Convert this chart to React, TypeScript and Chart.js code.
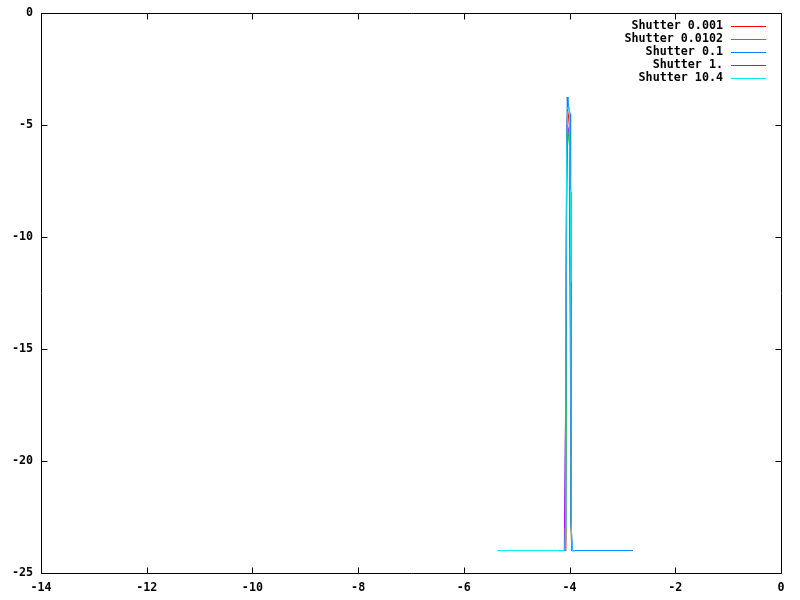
import React, { useEffect, useRef } from "react";
import { Chart, registerables } from "chart.js";

Chart.register(...registerables);

const seriesLabels = ["Shutter 0.001", "Shutter 0.0102", "Shutter 0.1", "Shutter 1.", "Shutter 10.4"];
const seriesColors = ["#ff0000", "#00c000", "#0080ff", "#c000ff", "#00eeee"];

const redX = [-4.1, -4.07, -4.055, -4.04, -4.02, -4.0, -3.99, -3.975, -3.96, -3.9];
const redY = [-24, -24, -5.5, -4.3, -4.6, -5.2, -12, -22.5, -24, -24];

const greenX = [-4.1, -4.07, -4.055, -4.04, -4.02, -4.0, -3.99, -3.975, -3.96, -3.9];
const greenY = [-24, -23.5, -9.4, -5, -5.5, -6, -8, -22.6, -24, -24];

const blueX = [-4.2, -4.09, -4.075, -4.06, -4.045, -4.03, -4.01, -3.99, -3.98, -3.97, -3.95, -3.86, -2.8];
const blueY = [-24, -24, -17.4, -9.5, -3.75, -4.2, -4.3, -4.5, -15.2, -22.8, -24, -24, -24];

const magentaX = [-4.1, -4.075, -4.06, -4.045, -4.02, -4.0, -3.98, -3.97, -3.95, -3.9];
const magentaY = [-24, -17.4, -8, -5, -5.2, -5.5, -15.2, -22.8, -24, -24];

const cyanX = [-5.37, -4.09, -4.08, -4.07, -4.055, -4.04, -4.02, -4.0, -3.99, -3.98, -3.97, -3.95, -3.9];
const cyanY = [-24, -24, -23, -14, -6, -4.5, -4.3, -4.2, -7.9, -10.9, -22.7, -24, -24];

const xsAll = [redX, greenX, blueX, magentaX, cyanX];
const ysAll = [redY, greenY, blueY, magentaY, cyanY];

const xTicks = [-14, -12, -10, -8, -6, -4, -2, 0];
const yTicks = [-25, -20, -15, -10, -5, 0];

const FONT_FAMILY = "'DejaVu Sans Mono', 'Liberation Mono', monospace";
const FONT = "bold 11.7px " + FONT_FAMILY;

const framePlugin = {
  id: "gnuframe",
  afterDraw(chart: any) {
    const { ctx, chartArea } = chart;
    const { left, right, top, bottom } = chartArea;
    const xs = chart.scales.x;
    const ys = chart.scales.y;
    ctx.save();
    ctx.strokeStyle = "#000";
    ctx.lineWidth = 1;
    const L = Math.round(left) + 0.5;
    const R = Math.round(right) + 0.5;
    const T = Math.round(top) + 0.5;
    const B = Math.round(bottom) + 0.5;
    ctx.beginPath();
    ctx.rect(L, T, R - L, B - T);
    const tl = 6;
    xTicks.forEach((v) => {
      const px = Math.round(xs.getPixelForValue(v)) + 0.5;
      ctx.moveTo(px, B);
      ctx.lineTo(px, B - tl);
      ctx.moveTo(px, T);
      ctx.lineTo(px, T + tl);
    });
    yTicks.forEach((v) => {
      const py = Math.round(ys.getPixelForValue(v)) + 0.5;
      ctx.moveTo(L, py);
      ctx.lineTo(L + tl, py);
      ctx.moveTo(R, py);
      ctx.lineTo(R - tl, py);
    });
    ctx.stroke();

    // legend
    ctx.font = FONT;
    ctx.fillStyle = "#000";
    ctx.textAlign = "right";
    ctx.textBaseline = "middle";
    seriesLabels.forEach((lab, i) => {
      const y = 25.5 + 13.2 * i;
      ctx.fillText(lab, 723, y);
      ctx.beginPath();
      ctx.strokeStyle = seriesColors[i];
      const yy = Math.round(y) + 0.5;
      ctx.moveTo(731, yy);
      ctx.lineTo(766, yy);
      ctx.stroke();
    });
    ctx.restore();
  },
};

export default function App() {
  const ref = useRef<HTMLCanvasElement | null>(null);
  useEffect(() => {
    if (!ref.current) return;
    const datasets = seriesLabels.map((lab, i) => ({
      label: lab,
      data: xsAll[i].map((x, j) => ({ x, y: ysAll[i][j] })),
      borderColor: seriesColors[i],
      backgroundColor: seriesColors[i],
      borderWidth: 1,
      pointRadius: 0,
      showLine: true,
      fill: false,
      tension: 0,
      order: seriesLabels.length - i,
    }));
    const tickFont = { family: FONT_FAMILY, size: 11.7, weight: "bold" as const };
    const chart = new Chart(ref.current, {
      type: "scatter",
      data: { datasets },
      options: {
        animation: false,
        responsive: false,
        maintainAspectRatio: false,
        layout: { padding: { left: 0, top: 13, right: 19, bottom: 0 } },
        plugins: { legend: { display: false }, tooltip: { enabled: false } },
        scales: {
          x: {
            type: "linear",
            min: -14,
            max: 0,
            afterFit: (s: any) => { s.height = 27; s.paddingLeft = 0; s.paddingRight = 0; },
            afterBuildTicks: (s: any) => { s.ticks = xTicks.map((v) => ({ value: v })); },
            grid: { display: false, drawTicks: false, tickLength: 0 },
            border: { display: false },
            ticks: { color: "#000", font: tickFont, padding: 8, maxRotation: 0, autoSkip: false },
          },
          y: {
            type: "linear",
            min: -25,
            max: 0,
            afterFit: (s: any) => { s.width = 41; s.paddingTop = 0; s.paddingBottom = 0; },
            afterBuildTicks: (s: any) => { s.ticks = yTicks.map((v) => ({ value: v })); },
            grid: { display: false, drawTicks: false, tickLength: 0 },
            border: { display: false },
            ticks: { color: "#000", font: tickFont, padding: 8, autoSkip: false },
          },
        },
      },
      plugins: [framePlugin],
    });
    return () => chart.destroy();
  }, []);
  return (
    <div style={{ position: "absolute", left: 0, top: 0, width: 800, height: 600, background: "#fff" }}>
      <canvas ref={ref} width={800} height={600} style={{ width: 800, height: 600, display: "block" }} />
    </div>
  );
}
